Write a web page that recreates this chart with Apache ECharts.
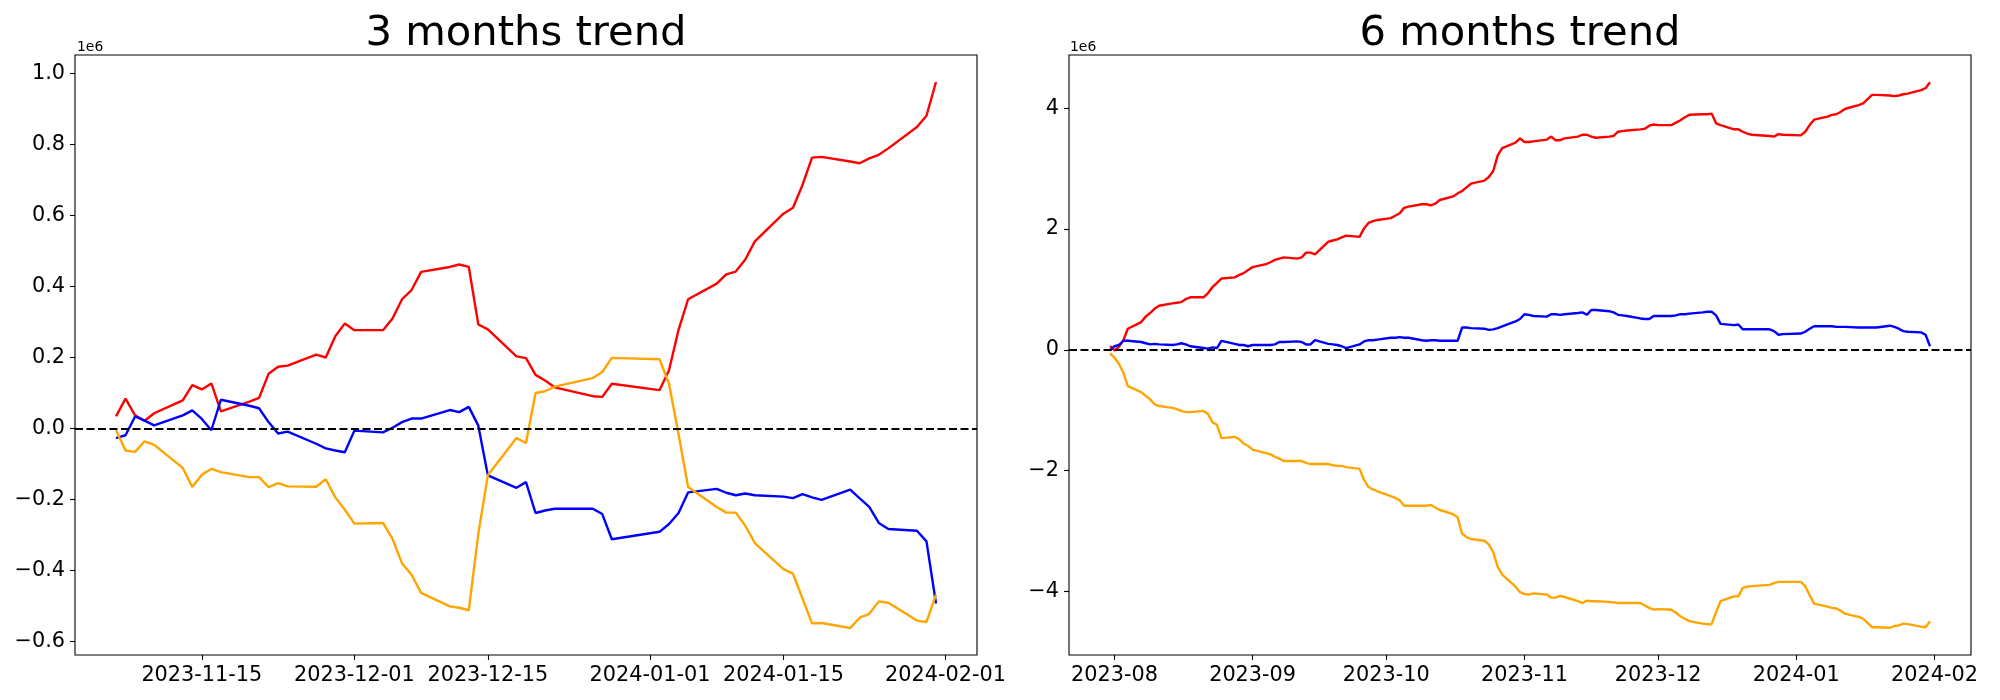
<!DOCTYPE html>
<html>
<head>
<meta charset="utf-8">
<script src="https://cdn.jsdelivr.net/npm/echarts@6/dist/echarts.min.js"></script>
<style>
html,body{margin:0;padding:0;background:#fff;}
#chart{width:2000px;height:700px;}
</style>
</head>
<body>
<div id="chart"></div>
<script>
// ---------- 3 months trend (values in units of 1e6) ----------
const DATES_3M = ['2023-11-06','2023-11-07','2023-11-08','2023-11-09','2023-11-10',
'2023-11-13','2023-11-14','2023-11-15','2023-11-16','2023-11-17',
'2023-11-20','2023-11-21','2023-11-22','2023-11-23','2023-11-24',
'2023-11-27','2023-11-28','2023-11-29','2023-11-30','2023-12-01',
'2023-12-04','2023-12-05','2023-12-06','2023-12-07','2023-12-08',
'2023-12-11','2023-12-12','2023-12-13','2023-12-14','2023-12-15',
'2023-12-18','2023-12-19','2023-12-20','2023-12-21','2023-12-22',
'2023-12-26','2023-12-27','2023-12-28',
'2024-01-02','2024-01-03','2024-01-04','2024-01-05',
'2024-01-08','2024-01-09','2024-01-10','2024-01-11','2024-01-12',
'2024-01-15','2024-01-16','2024-01-17','2024-01-18','2024-01-19',
'2024-01-22','2024-01-23','2024-01-24','2024-01-25','2024-01-26',
'2024-01-29','2024-01-30','2024-01-31'];
const RED_3M = [0.034,0.084,0.037,0.022,0.043,
0.079,0.122,0.110,0.127,0.048,
0.076,0.086,0.154,0.174,0.177,
0.208,0.200,0.260,0.296,0.277,
0.277,0.310,0.364,0.390,0.441,
0.455,0.462,0.455,0.293,0.279,
0.203,0.198,0.151,0.135,0.116,
0.091,0.089,0.126,
0.108,0.164,0.278,0.364,
0.408,0.434,0.442,0.476,0.527,
0.605,0.622,0.686,0.763,0.765,
0.752,0.747,0.761,0.771,0.789,
0.849,0.881,0.976];
const BLUE_3M = [-0.027,-0.019,0.034,0.022,0.009,
0.037,0.051,0.027,-0.005,0.081,
0.064,0.057,0.018,-0.014,-0.009,
-0.043,-0.056,-0.062,-0.067,-0.006,
-0.011,0.002,0.018,0.028,0.028,
0.052,0.046,0.061,0.008,-0.132,
-0.167,-0.151,-0.238,-0.231,-0.226,
-0.226,-0.241,-0.312,
-0.291,-0.269,-0.238,-0.180,
-0.170,-0.181,-0.188,-0.183,-0.188,
-0.192,-0.196,-0.185,-0.194,-0.201,
-0.172,-0.197,-0.221,-0.266,-0.283,
-0.288,-0.318,-0.493];
const ORANGE_3M = [-0.005,-0.062,-0.066,-0.036,-0.046,
-0.111,-0.165,-0.130,-0.114,-0.123,
-0.137,-0.137,-0.165,-0.154,-0.163,
-0.164,-0.143,-0.194,-0.229,-0.268,
-0.266,-0.311,-0.380,-0.412,-0.463,
-0.501,-0.505,-0.512,-0.296,-0.132,
-0.027,-0.041,0.100,0.105,0.118,
0.142,0.159,0.199,
0.195,0.126,-0.016,-0.165,
-0.221,-0.237,-0.237,-0.274,-0.323,
-0.396,-0.409,-0.479,-0.549,-0.548,
-0.562,-0.533,-0.522,-0.487,-0.491,
-0.541,-0.545,-0.468];
const XTICKS_3M = ['2023-11-15','2023-12-01','2023-12-15','2024-01-01','2024-01-15','2024-02-01'];
const YTICKS_3M = [-0.6,-0.4,-0.2,0.0,0.2,0.4,0.6,0.8,1.0];

// ---------- 6 months trend (values in units of 1e6) ----------
const DATES_6M = ['2023-07-31','2023-08-01','2023-08-02','2023-08-03','2023-08-04',
'2023-08-07','2023-08-08','2023-08-09','2023-08-10','2023-08-11',
'2023-08-14','2023-08-15','2023-08-16','2023-08-17','2023-08-18',
'2023-08-21','2023-08-22','2023-08-23','2023-08-24','2023-08-25',
'2023-08-28','2023-08-29','2023-08-30','2023-08-31','2023-09-01',
'2023-09-04','2023-09-05','2023-09-06','2023-09-07','2023-09-08',
'2023-09-11','2023-09-12','2023-09-13','2023-09-14','2023-09-15',
'2023-09-18','2023-09-19','2023-09-20','2023-09-21','2023-09-22',
'2023-09-25','2023-09-26','2023-09-27','2023-09-28','2023-09-29',
'2023-10-02','2023-10-03','2023-10-04','2023-10-05','2023-10-06',
'2023-10-09','2023-10-10','2023-10-11','2023-10-12','2023-10-13',
'2023-10-16','2023-10-17','2023-10-18','2023-10-19','2023-10-20',
'2023-10-23','2023-10-24','2023-10-25','2023-10-26','2023-10-27',
'2023-10-30','2023-10-31','2023-11-01','2023-11-02','2023-11-03',
'2023-11-06','2023-11-07','2023-11-08','2023-11-09','2023-11-10',
'2023-11-13','2023-11-14','2023-11-15','2023-11-16','2023-11-17',
'2023-11-20','2023-11-21','2023-11-22','2023-11-23','2023-11-24',
'2023-11-27','2023-11-28','2023-11-29','2023-11-30','2023-12-01',
'2023-12-04','2023-12-05','2023-12-06','2023-12-07','2023-12-08',
'2023-12-11','2023-12-12','2023-12-13','2023-12-14','2023-12-15',
'2023-12-18','2023-12-19','2023-12-20','2023-12-21','2023-12-22',
'2023-12-26','2023-12-27','2023-12-28','2023-12-29',
'2024-01-02','2024-01-03','2024-01-04','2024-01-05',
'2024-01-08','2024-01-09','2024-01-10','2024-01-11','2024-01-12',
'2024-01-15','2024-01-16','2024-01-17','2024-01-18','2024-01-19',
'2024-01-22','2024-01-23','2024-01-24','2024-01-25','2024-01-26',
'2024-01-29','2024-01-30','2024-01-31'];
const RED_6M = [0.06,-0.01,0.05,0.16,0.35,
0.46,0.55,0.61,0.68,0.73,
0.77,0.78,0.79,0.84,0.87,
0.87,0.94,1.04,1.11,1.18,
1.20,1.24,1.27,1.32,1.37,
1.42,1.45,1.49,1.51,1.53,
1.51,1.53,1.61,1.61,1.58,
1.79,1.81,1.83,1.86,1.89,
1.87,2.01,2.10,2.13,2.15,
2.18,2.22,2.26,2.35,2.37,
2.41,2.41,2.39,2.42,2.48,
2.54,2.59,2.63,2.69,2.75,
2.80,2.86,2.96,3.22,3.34,
3.43,3.50,3.44,3.44,3.45,
3.48,3.53,3.47,3.47,3.50,
3.53,3.56,3.56,3.53,3.51,
3.53,3.54,3.61,3.62,3.63,
3.65,3.66,3.71,3.73,3.72,
3.72,3.76,3.80,3.85,3.89,
3.90,3.90,3.91,3.75,3.72,
3.65,3.65,3.61,3.58,3.56,
3.54,3.53,3.57,3.56,
3.55,3.61,3.72,3.81,
3.86,3.89,3.90,3.94,3.99,
4.05,4.08,4.15,4.22,4.22,
4.21,4.20,4.21,4.23,4.24,
4.30,4.33,4.43];
const BLUE_6M = [-0.01,0.06,0.08,0.15,0.15,
0.13,0.11,0.09,0.10,0.09,
0.08,0.09,0.11,0.09,0.06,
0.03,0.02,0.04,0.03,0.15,
0.10,0.08,0.08,0.06,0.08,
0.08,0.08,0.09,0.13,0.13,
0.14,0.13,0.09,0.09,0.16,
0.10,0.09,0.08,0.06,0.03,
0.09,0.14,0.16,0.16,0.17,
0.20,0.20,0.21,0.20,0.20,
0.16,0.15,0.16,0.16,0.15,
0.15,0.15,0.37,0.37,0.36,
0.35,0.33,0.34,0.36,0.39,
0.47,0.51,0.59,0.58,0.56,
0.55,0.59,0.59,0.58,0.59,
0.61,0.62,0.58,0.66,0.66,
0.64,0.62,0.58,0.57,0.56,
0.52,0.51,0.51,0.56,0.56,
0.56,0.57,0.59,0.59,0.60,
0.62,0.63,0.63,0.57,0.43,
0.41,0.42,0.34,0.34,0.34,
0.34,0.31,0.25,0.26,
0.27,0.30,0.35,0.39,
0.39,0.39,0.38,0.38,0.38,
0.37,0.37,0.37,0.37,0.37,
0.40,0.38,0.35,0.31,0.30,
0.29,0.25,0.06];
const ORANGE_6M = [-0.06,-0.13,-0.23,-0.38,-0.60,
-0.70,-0.76,-0.82,-0.90,-0.93,
-0.96,-0.98,-1.01,-1.03,-1.03,
-1.01,-1.06,-1.20,-1.24,-1.46,
-1.44,-1.48,-1.55,-1.59,-1.65,
-1.71,-1.73,-1.77,-1.80,-1.84,
-1.84,-1.84,-1.87,-1.89,-1.89,
-1.89,-1.91,-1.92,-1.92,-1.94,
-1.97,-2.15,-2.27,-2.31,-2.34,
-2.42,-2.45,-2.49,-2.58,-2.58,
-2.58,-2.58,-2.57,-2.61,-2.65,
-2.72,-2.77,-3.04,-3.10,-3.13,
-3.16,-3.22,-3.35,-3.59,-3.72,
-3.92,-4.01,-4.04,-4.05,-4.03,
-4.05,-4.10,-4.10,-4.07,-4.09,
-4.16,-4.19,-4.15,-4.16,-4.16,
-4.17,-4.18,-4.19,-4.19,-4.19,
-4.19,-4.23,-4.27,-4.30,-4.29,
-4.30,-4.35,-4.41,-4.45,-4.49,
-4.53,-4.54,-4.54,-4.34,-4.16,
-4.08,-4.08,-3.94,-3.92,-3.91,
-3.89,-3.86,-3.84,-3.84,
-3.84,-3.91,-4.06,-4.20,
-4.25,-4.27,-4.28,-4.32,-4.37,
-4.42,-4.45,-4.52,-4.59,-4.59,
-4.60,-4.57,-4.56,-4.53,-4.54,
-4.58,-4.59,-4.49];
const XTICKS_6M = ['2023-08-01','2023-09-01','2023-10-01','2023-11-01','2023-12-01','2024-01-01','2024-02-01'];
const YTICKS_6M = [-4,-2,0,2,4];

const TITLES = ['3 months trend','6 months trend'];
const COLORS = {red:'#ff0000', blue:'#0000ff', orange:'#ffa500'};

// ---------- helpers ----------
const DAY = 86400000;
function ts(s){ return Date.UTC(+s.slice(0,4), +s.slice(5,7)-1, +s.slice(8,10)); }
function pairs(dates, vals){ return dates.map((d,i)=>[ts(d), vals[i]]); }
function pad2(n){ return (n<10?'0':'')+n; }
function fmtDay(v){ const d=new Date(v); return d.getUTCFullYear()+'-'+pad2(d.getUTCMonth()+1)+'-'+pad2(d.getUTCDate()); }
function fmtMonth(v){ const d=new Date(v); return d.getUTCFullYear()+'-'+pad2(d.getUTCMonth()+1); }
function minus(s){ return s.replace('-', '\u2212'); }

const FONT = 'DejaVu Sans';
const TICK_FS = 20.8;
const LW = 2.4;

const G = [
  {left:75, right:1023, top:55, bottom:45},
  {left:1069, right:29, top:55, bottom:45}
];

function xAxis(gi, ticks, fmt, min, max){
  const vals = ticks.map(ts);
  return {
    type:'value', gridIndex:gi, min:min, max:max, scale:true, position:'bottom',
    splitLine:{show:false},
    axisLine:{show:false, onZero:false},
    axisTick:{show:true, customValues:vals, length:5, lineStyle:{color:'#000', width:1.1}},
    axisLabel:{show:true, customValues:vals, formatter:fmt, color:'#000', fontFamily:FONT, fontSize:TICK_FS, margin:10, hideOverlap:false}
  };
}
function yAxis(gi, ticks, fmt, min, max){
  return {
    type:'value', gridIndex:gi, min:min, max:max, position:'left',
    splitLine:{show:false},
    axisLine:{show:false, onZero:false},
    axisTick:{show:true, customValues:ticks, length:5, lineStyle:{color:'#000', width:1.1}},
    axisLabel:{show:true, customValues:ticks, formatter:fmt, color:'#000', fontFamily:FONT, fontSize:TICK_FS, margin:10}
  };
}
function line(gi, data, color, withZero){
  const s = {
    type:'line', xAxisIndex:gi, yAxisIndex:gi, data:data,
    symbol:'none', showSymbol:false, smooth:false,
    lineStyle:{color:color, width:LW}, itemStyle:{color:color},
    emphasis:{disabled:true}, silent:true, animation:false
  };
  if (withZero){
    s.markLine = {
      silent:true, symbol:['none','none'], animation:false,
      label:{show:false},
      lineStyle:{color:'#000', type:[8,3.5], width:2.2},
      data:[{yAxis:0}]
    };
  }
  return s;
}

const x3min = ts(DATES_3M[0]) - 4.3*DAY, x3max = ts(DATES_3M[DATES_3M.length-1]) + 4.3*DAY;
const x6min = ts(DATES_6M[0]) - 9.2*DAY, x6max = ts(DATES_6M[DATES_6M.length-1]) + 9.2*DAY;

const option = {
  animation:false,
  backgroundColor:'#ffffff',
  textStyle:{fontFamily:FONT},
  title:[
    {text:TITLES[0], left:526, textAlign:'center', top:13, padding:0,
     textStyle:{fontFamily:FONT, fontSize:41.7, fontWeight:'normal', color:'#000'}},
    {text:TITLES[1], left:1520, textAlign:'center', top:13, padding:0,
     textStyle:{fontFamily:FONT, fontSize:41.7, fontWeight:'normal', color:'#000'}}
  ],
  grid: G.map(g=>Object.assign({show:true, borderColor:'#000', borderWidth:1.1, backgroundColor:'transparent', containLabel:false}, g)),
  xAxis:[
    xAxis(0, XTICKS_3M, fmtDay, x3min, x3max),
    xAxis(1, XTICKS_6M, fmtMonth, x6min, x6max)
  ],
  yAxis:[
    yAxis(0, YTICKS_3M, v=>minus(v.toFixed(1)), -0.638, 1.052),
    yAxis(1, YTICKS_6M, v=>minus(String(Math.round(v))), -5.05, 4.88)
  ],
  series:[
    line(0, pairs(DATES_3M, RED_3M), COLORS.red, false),
    line(0, pairs(DATES_3M, BLUE_3M), COLORS.blue, false),
    line(0, pairs(DATES_3M, ORANGE_3M), COLORS.orange, true),
    line(1, pairs(DATES_6M, RED_6M), COLORS.red, false),
    line(1, pairs(DATES_6M, BLUE_6M), COLORS.blue, false),
    line(1, pairs(DATES_6M, ORANGE_6M), COLORS.orange, true)
  ],
  graphic:[
    {type:'text', left:77, top:40, silent:true,
     style:{text:'1e6', fill:'#000', font:'13.9px "DejaVu Sans"'}},
    {type:'text', left:1070, top:40, silent:true,
     style:{text:'1e6', fill:'#000', font:'13.9px "DejaVu Sans"'}}
  ]
};

const chart = echarts.init(document.getElementById('chart'), null, {renderer:'canvas', width:2000, height:700});
chart.setOption(option);
</script>
</body>
</html>
